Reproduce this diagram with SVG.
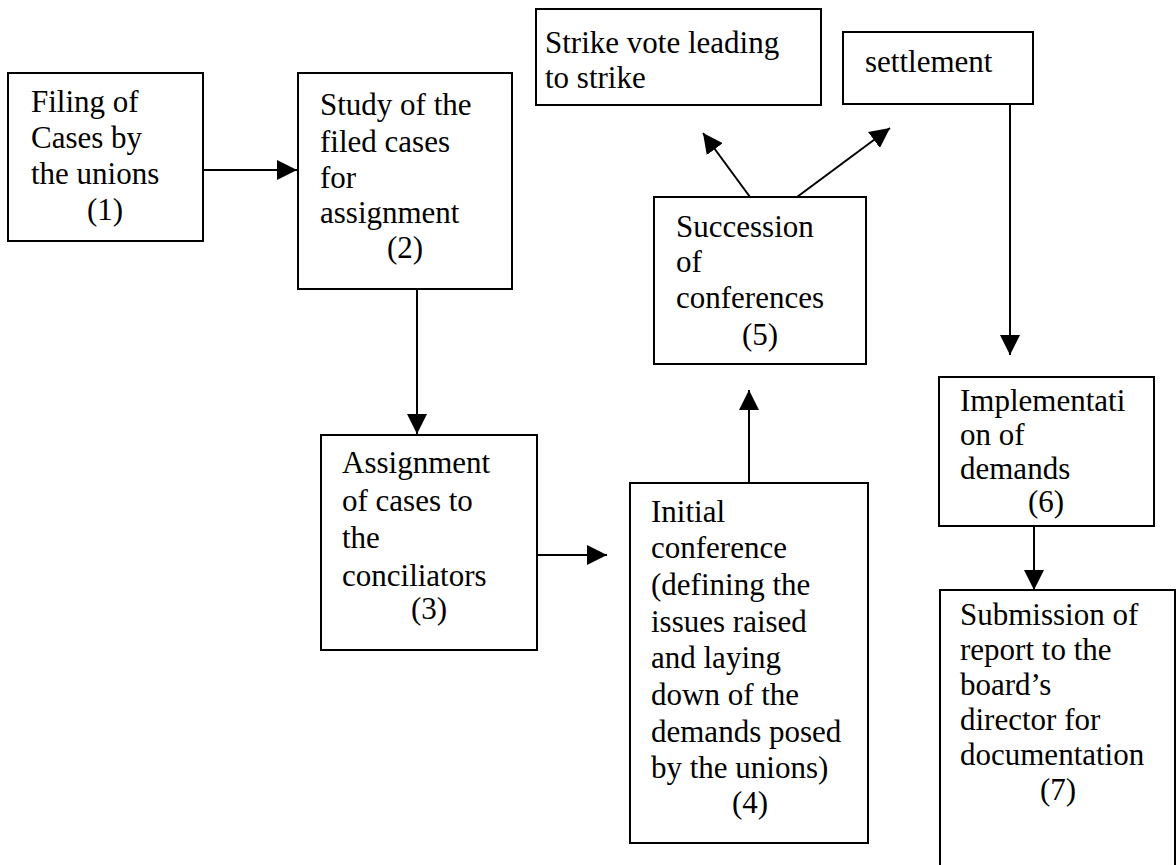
<svg xmlns="http://www.w3.org/2000/svg" width="1176" height="865" viewBox="0 0 1176 865">
  <style>
    .box { fill: #ffffff; stroke: #000000; stroke-width: 2; }
    .lbl { font-family: "Liberation Serif", "Times New Roman", serif; font-size: 31px; fill: #000000; }
    .num { text-anchor: middle; }
    .edge { fill: none; stroke: #000000; stroke-width: 2; }
  </style>
  <defs>
    <marker id="arrow" markerUnits="userSpaceOnUse" markerWidth="22" markerHeight="20" refX="20" refY="10" orient="auto">
      <path d="M0,0 L20,10 L0,20 Z" fill="#000000"/>
    </marker>
  </defs>
  <rect width="1176" height="865" fill="#ffffff"/>

  <g id="connectors">
    <line class="edge" x1="203" y1="170" x2="297" y2="170" marker-end="url(#arrow)"/>
    <line class="edge" x1="417" y1="289" x2="417" y2="434" marker-end="url(#arrow)"/>
    <line class="edge" x1="537" y1="555" x2="607" y2="555" marker-end="url(#arrow)"/>
    <line class="edge" x1="749" y1="483" x2="749" y2="390" marker-end="url(#arrow)"/>
    <line class="edge" x1="750" y1="197" x2="703" y2="133" marker-end="url(#arrow)"/>
    <line class="edge" x1="797" y1="197" x2="890" y2="128" marker-end="url(#arrow)"/>
    <line class="edge" x1="1010" y1="104" x2="1010" y2="355" marker-end="url(#arrow)"/>
    <line class="edge" x1="1034" y1="526" x2="1034" y2="590" marker-end="url(#arrow)"/>
  </g>

  <g id="node1">
    <rect class="box" x="8" y="73" width="195" height="168"/>
    <text class="lbl" x="31" y="112">Filing of</text>
    <text class="lbl" x="31" y="148">Cases by</text>
    <text class="lbl" x="31" y="184">the unions</text>
    <text class="lbl num" x="105" y="220">(1)</text>
  </g>

  <g id="node2">
    <rect class="box" x="298" y="73" width="214" height="216"/>
    <text class="lbl" x="320" y="115">Study of the</text>
    <text class="lbl" x="320" y="152">filed cases</text>
    <text class="lbl" x="320" y="188">for</text>
    <text class="lbl" x="320" y="223">assignment</text>
    <text class="lbl num" x="405" y="258">(2)</text>
  </g>

  <g id="node3">
    <rect class="box" x="321" y="435" width="216" height="215"/>
    <text class="lbl" x="342" y="473">Assignment</text>
    <text class="lbl" x="342" y="511">of cases to</text>
    <text class="lbl" x="342" y="548">the</text>
    <text class="lbl" x="342" y="586">conciliators</text>
    <text class="lbl num" x="429" y="619">(3)</text>
  </g>

  <g id="node4">
    <rect class="box" x="630" y="483" width="238" height="360"/>
    <text class="lbl" x="651" y="522">Initial</text>
    <text class="lbl" x="651" y="558">conference</text>
    <text class="lbl" x="651" y="595">(defining the</text>
    <text class="lbl" x="651" y="632">issues raised</text>
    <text class="lbl" x="651" y="668">and laying</text>
    <text class="lbl" x="651" y="705">down of the</text>
    <text class="lbl" x="651" y="742">demands posed</text>
    <text class="lbl" x="651" y="778">by the unions)</text>
    <text class="lbl num" x="750" y="813">(4)</text>
  </g>

  <g id="node5">
    <rect class="box" x="654" y="197" width="212" height="167"/>
    <text class="lbl" x="676" y="237">Succession</text>
    <text class="lbl" x="676" y="272">of</text>
    <text class="lbl" x="676" y="308">conferences</text>
    <text class="lbl num" x="760" y="345">(5)</text>
  </g>

  <g id="strike">
    <rect class="box" x="536" y="9" width="285" height="96"/>
    <text class="lbl" x="545" y="53">Strike vote leading</text>
    <text class="lbl" x="545" y="88">to strike</text>
  </g>

  <g id="settlement">
    <rect class="box" x="843" y="32" width="190" height="72"/>
    <text class="lbl" x="865" y="72">settlement</text>
  </g>

  <g id="node6">
    <rect class="box" x="939" y="377" width="215" height="149"/>
    <text class="lbl" x="960" y="411">Implementati</text>
    <text class="lbl" x="960" y="445">on of</text>
    <text class="lbl" x="960" y="479">demands</text>
    <text class="lbl num" x="1046" y="512">(6)</text>
  </g>

  <g id="node7">
    <rect class="box" x="940" y="590" width="235" height="300"/>
    <text class="lbl" x="960" y="625">Submission of</text>
    <text class="lbl" x="960" y="660">report to the</text>
    <text class="lbl" x="960" y="695">board’s</text>
    <text class="lbl" x="960" y="730">director for</text>
    <text class="lbl" x="960" y="765">documentation</text>
    <text class="lbl num" x="1058" y="800">(7)</text>
  </g>
</svg>
